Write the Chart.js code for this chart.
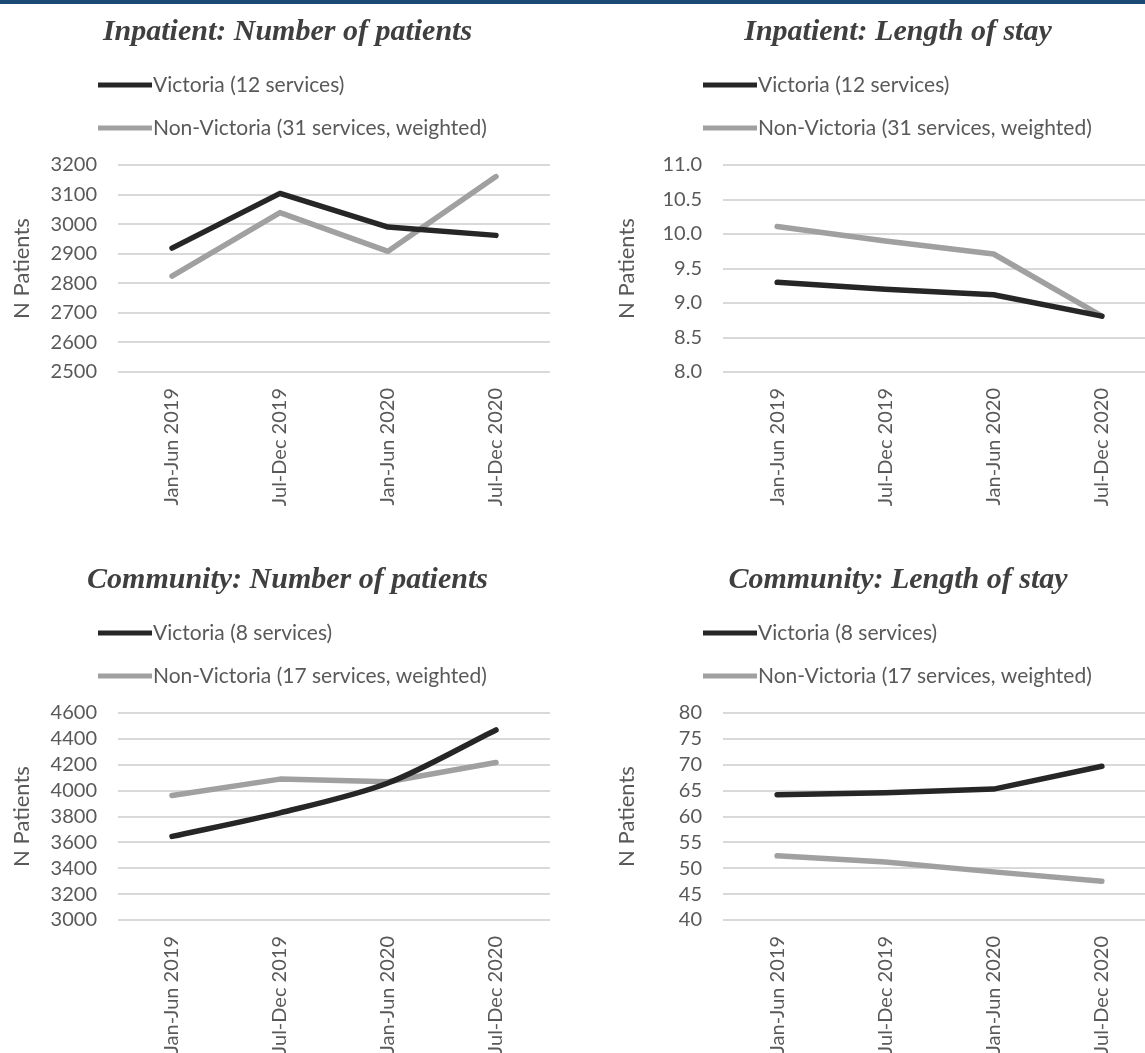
<!DOCTYPE html>
<html>
<head>
<meta charset="utf-8">
<script src="https://cdn.jsdelivr.net/npm/chart.js@4/dist/chart.umd.min.js"></script>
<style>
  html, body { margin: 0; padding: 0; background: #ffffff; overflow: hidden; width: 1145px; height: 1053px; }
  #topbar { position: absolute; left: 0; top: 0; width: 1145px; height: 4px; background: #1a4a73; }
  canvas { position: absolute; }
</style>
</head>
<body>
<div id="topbar"></div>
<canvas id="c1" width="575" height="548" style="left:0px;top:0px;"></canvas>
<canvas id="c2" width="636" height="548" style="left:580px;top:0px;"></canvas>
<canvas id="c3" width="575" height="548" style="left:0px;top:548px;"></canvas>
<canvas id="c4" width="636" height="548" style="left:580px;top:548px;"></canvas>
<script>
// ---- data ----
const periods = ["Jan-Jun 2019", "Jul-Dec 2019", "Jan-Jun 2020", "Jul-Dec 2020"];

const inpatientCountVic    = [2919, 3104, 2990, 2962];
const inpatientCountNonVic = [2824, 3039, 2908, 3161];

const inpatientStayVic    = [9.30, 9.20, 9.12, 8.81];
const inpatientStayNonVic = [10.11, 9.90, 9.71, 8.81];

const communityCountVic    = [3646, 3828, 4059, 4469];
const communityCountNonVic = [3962, 4089, 4069, 4218];

const communityStayVic    = [64.2, 64.6, 65.3, 69.7];
const communityStayNonVic = [52.4, 51.2, 49.3, 47.5];

const titles = [
  "Inpatient: Number of patients",
  "Inpatient: Length of stay",
  "Community: Number of patients",
  "Community: Length of stay"
];
const legendInpatient = ["Victoria (12 services)", "Non-Victoria (31 services, weighted)"];
const legendCommunity = ["Victoria (8 services)", "Non-Victoria (17 services, weighted)"];
const yAxisTitle = "N Patients";

// ---- styling ----
const VIC_COLOR = "#262626";
const NONVIC_COLOR = "#a0a0a0";
const TEXT_COLOR = "#595959";
const GRID_COLOR = "#d9d9d9";
const SANS = "Lato";

const excelHeader = {
  id: "excelHeader",
  afterDraw(chart, args, opts) {
    const ctx = chart.ctx;
    const ca = chart.chartArea;
    ctx.save();
    // title
    ctx.font = "italic bold 30px 'Liberation Serif'";
    ctx.fillStyle = "#3f3f3f";
    ctx.textAlign = "center";
    ctx.textBaseline = "middle";
    ctx.fillText(opts.text, chart.width / 2, 32);
    // legend
    ctx.font = "21px " + SANS;
    ctx.textAlign = "left";
    chart.data.datasets.forEach((ds, i) => {
      const y = ca.top - 80 + i * 43;
      const x0 = ca.left - 20;
      ctx.strokeStyle = ds.borderColor;
      ctx.lineWidth = 5;
      ctx.lineCap = "butt";
      ctx.beginPath();
      ctx.moveTo(x0, y);
      ctx.lineTo(x0 + 54, y);
      ctx.stroke();
      ctx.fillStyle = TEXT_COLOR;
      ctx.fillText(ds.label, x0 + 55, y);
    });
    ctx.restore();
  }
};

function makeChart(id, title, legend, vic, nonVic, yMin, yMax, yStep, decimals, yWidth, yTitlePad, padRight, vicTension) {
  return new Chart(document.getElementById(id), {
    type: "line",
    data: {
      labels: periods,
      datasets: [
        { label: legend[0], data: vic, borderColor: VIC_COLOR, backgroundColor: VIC_COLOR,
          borderWidth: 5.5, pointRadius: 0, tension: vicTension, borderCapStyle: "round", borderJoinStyle: "round" },
        { label: legend[1], data: nonVic, borderColor: NONVIC_COLOR, backgroundColor: NONVIC_COLOR,
          borderWidth: 5.5, pointRadius: 0, tension: 0, borderCapStyle: "round", borderJoinStyle: "round" }
      ]
    },
    options: {
      responsive: false,
      animation: false,
      devicePixelRatio: 1,
      layout: { padding: { top: 165, right: padRight, bottom: 0, left: 0 } },
      plugins: {
        legend: { display: false },
        title: { display: false },
        tooltip: { enabled: false },
        excelHeader: { text: title }
      },
      scales: {
        x: {
          type: "category",
          offset: true,
          grid: { display: false },
          border: { display: false },
          ticks: {
            minRotation: 90, maxRotation: 90, autoSkip: false, padding: 8,
            color: TEXT_COLOR, font: { family: SANS, size: 20 }
          },
          afterFit(scale) { scale.height = 176; }
        },
        y: {
          min: yMin, max: yMax,
          grid: { color: GRID_COLOR, lineWidth: 2, drawTicks: false },
          border: { display: false },
          ticks: {
            stepSize: yStep, padding: 21, color: TEXT_COLOR, autoSkip: false,
            maxTicksLimit: 20,
            font: { family: SANS, size: 20, lineHeight: 1 },
            callback: (v) => Number(v).toFixed(decimals)
          },
          title: {
            display: true, text: yAxisTitle, color: TEXT_COLOR,
            font: { family: SANS, size: 22 }, padding: { top: yTitlePad, bottom: 0 }
          },
          afterFit(scale) { scale.width = yWidth; }
        }
      }
    },
    plugins: [excelHeader]
  });
}

makeChart("c1", titles[0], legendInpatient, inpatientCountVic, inpatientCountNonVic, 2500, 3200, 100, 0, 118, 9, 25, 0);
makeChart("c2", titles[1], legendInpatient, inpatientStayVic, inpatientStayNonVic, 8, 11, 0.5, 1, 143, 34, 60, 0);
makeChart("c3", titles[2], legendCommunity, communityCountVic, communityCountNonVic, 3000, 4600, 200, 0, 118, 9, 25, 0.3);
makeChart("c4", titles[3], legendCommunity, communityStayVic, communityStayNonVic, 40, 80, 5, 0, 143, 34, 60, 0);
</script>
</body>
</html>
